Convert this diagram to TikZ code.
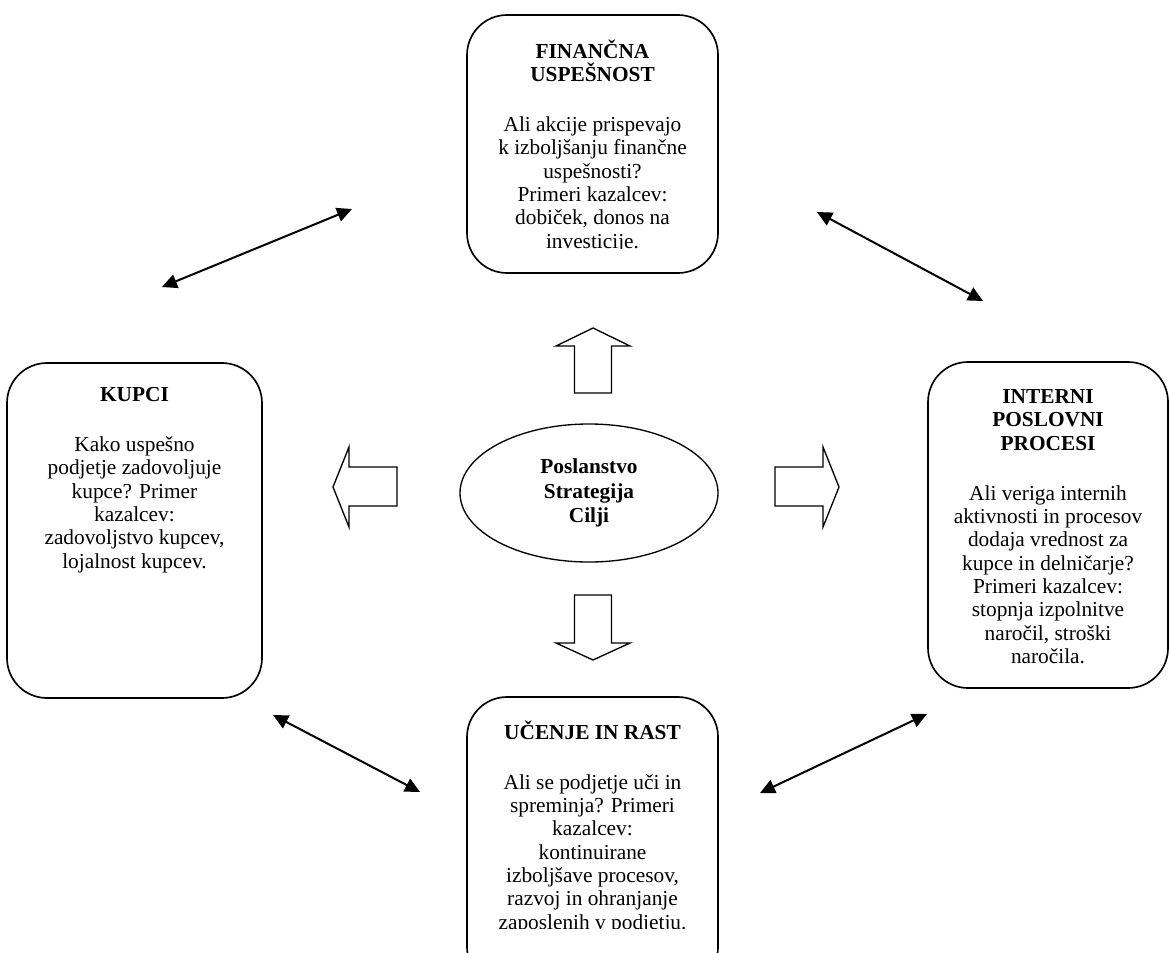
\documentclass[tikz,border=0pt]{standalone}
\usepackage{fontspec}
\setmainfont{Liberation Serif}
\usetikzlibrary{arrows.meta,shapes.geometric}

\begin{document}
\begin{tikzpicture}[x=0.6pt,y=0.6pt,yscale=-1,xscale=1,
  panel/.style={draw,rounded corners=24pt,line width=1pt,inner sep=0pt},
  paneltext/.style={anchor=north,align=center,inner sep=0pt,font=\fontsize{12.8}{14}\selectfont},
  blockarrow/.style={draw,line width=0.8pt,line join=miter},
  link/.style={{Triangle[length=9pt,width=8.5pt]}-{Triangle[length=9pt,width=8.5pt]},line width=1.2pt}]
\useasboundingbox (0,0) rectangle (1170,952);
\clip (0,0) rectangle (1170,952);
% four panels
\node[panel,minimum width=150.6pt,minimum height=154.8pt] (fin) at (592.5,144) {};
\node[panel,minimum width=153pt,minimum height=201pt] (kup) at (134.5,530.5) {};
\node[panel,minimum width=144pt,minimum height=195.6pt] (int) at (1048,525) {};
\node[panel,minimum width=150.6pt,minimum height=174pt] (uce) at (592.5,842) {};
% panel texts
\begin{scope}
\clip (470,18) rectangle (715,248);
\node[paneltext] (fintxt) at ([yshift=15pt]fin.north) {\textbf{FINANČNA}\\\textbf{USPEŠNOST}\\[16pt]
  Ali akcije prispevajo\\k izboljšanju finančne\\uspešnosti?\\Primeri kazalcev:\\dobiček, donos na\\investicije.};
\end{scope}
\node[paneltext] (kuptxt) at ([yshift=15pt]kup.north) {\textbf{KUPCI}\\[16pt]
  Kako uspešno\\podjetje zadovoljuje\\kupce? Primer\\kazalcev:\\zadovoljstvo kupcev,\\lojalnost kupcev.};
\node[paneltext] (inttxt) at ([yshift=16.8pt]int.north) {\textbf{INTERNI}\\\textbf{POSLOVNI}\\\textbf{PROCESI}\\[16pt]
  Ali veriga internih\\aktivnosti in procesov\\dodaja vrednost za\\kupce in delničarje?\\Primeri kazalcev:\\stopnja izpolnitve\\naročil, stroški\\naročila.};
\begin{scope}
\clip (470,700) rectangle (715,928);
\node[paneltext] (ucetxt) at ([yshift=14.4pt]uce.north) {\textbf{UČENJE IN RAST}\\[16pt]
  Ali se podjetje uči in\\spreminja? Primeri\\kazalcev:\\kontinuirane\\izboljšave procesov,\\razvoj in ohranjanje\\zaposlenih v podjetju.};
\end{scope}
% centre
\node[ellipse,draw,line width=0.8pt,minimum width=154.8pt,minimum height=82.8pt,align=center,
  font=\bfseries\fontsize{12.8}{14.5}\selectfont] (mis) at (589,493) {Poslanstvo\\Strategija\\Cilji};
% block arrows
\draw[blockarrow] (574.5,393) -- (574.5,346) -- (556,346) -- (593,328) -- (630,346) -- (611.5,346) -- (611.5,393) -- cycle;
\draw[blockarrow] (574.5,595) -- (574.5,643) -- (556,643) -- (593,660) -- (630,643) -- (611.5,643) -- (611.5,595) -- cycle;
\draw[blockarrow] (397,467) -- (349,467) -- (349,447) -- (333,487) -- (349,527) -- (349,506) -- (397,506) -- cycle;
\draw[blockarrow] (775,467) -- (823,467) -- (823,447) -- (839,487) -- (823,527) -- (823,506) -- (775,506) -- cycle;
% links between panels
\coordinate (kf1) at (162,287);
\coordinate (kf2) at (352,209);
\coordinate (fi1) at (817,212);
\coordinate (fi2) at (983,301);
\coordinate (ku1) at (273,715);
\coordinate (ku2) at (420,792);
\coordinate (ui1) at (760,793);
\coordinate (ui2) at (927,714);
\draw[link] (kf1) -- (kf2);
\draw[link] (fi1) -- (fi2);
\draw[link] (ku1) -- (ku2);
\draw[link] (ui1) -- (ui2);
\end{tikzpicture}
\end{document}
